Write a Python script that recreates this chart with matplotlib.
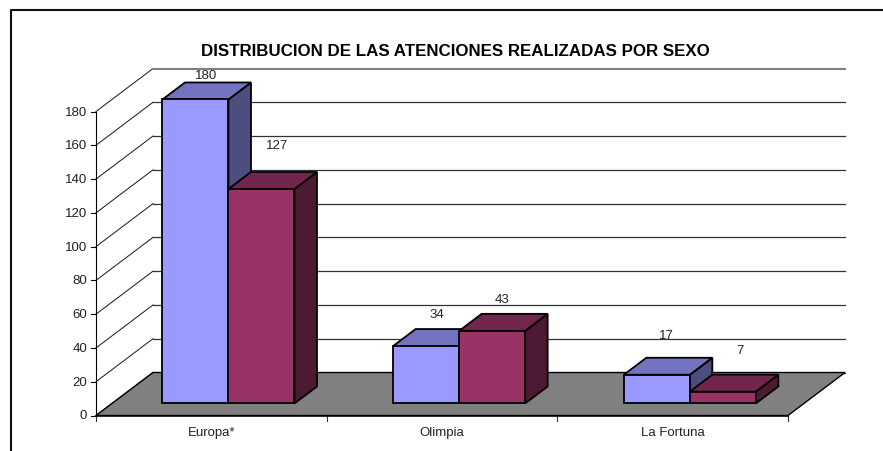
import numpy as np
import matplotlib
matplotlib.use("Agg")
import matplotlib.pyplot as plt
from matplotlib.patches import Polygon

categories = ["Europa*", "Olimpia", "La Fortuna"]
serie_a = [180, 34, 17]
serie_b = [127, 43, 7]
title = "DISTRIBUCION DE LAS ATENCIONES REALIZADAS POR SEXO"
yticks = list(range(0, 181, 20))

# label offsets from the top front centre of each bar, in pixels
offs_a = [(11, 24.5), (11, 32), (10, 40)]
offs_b = [(16, 44), (10, 32), (17, 42)]

W, H = 883, 452
# front plane of the chart in pixels
left, right, y0, ytop = 96, 788, 416.5, 112.5

plt.rcParams['font.family'] = ['Liberation Sans', 'DejaVu Sans']

fig = plt.figure(figsize=(W / 100, H / 100), dpi=100)
ax = fig.add_axes([left / W, 1 - y0 / H, (right - left) / W, (y0 - ytop) / H])
ax.set_xlim(0, 3)
ax.set_ylim(0, 180)
ax.axis("off")

# oblique projection, depth 0 = front, 1 = back wall
depth_x = 57 / ((right - left) / 3)
depth_y = 43 / ((y0 - ytop) / 180)


def pr(x, y, d=0):
    return (x + d * depth_x, y + d * depth_y)


def poly(pts, color, lw=1.0, ec="black", z=2):
    ax.add_patch(Polygon([pr(*p) for p in pts], closed=True, fc=color, ec=ec, lw=lw,
                         zorder=z, clip_on=False, joinstyle="miter"))


# outer frame
fig.add_artist(plt.Line2D([10.5 / W, 10.5 / W, 1], [0, 1 - 10.5 / H, 1 - 10.5 / H],
                          color="#111111", lw=1.5))

# floor
poly([(0, 0, 0), (3, 0, 0), (3, 0, 1), (0, 0, 1)], "#808080", lw=1.0, z=1)

# walls and grid
for i, v in enumerate(yticks):
    ax.plot(*zip(pr(0, v, 0), pr(0, v, 1)), color="#222222", lw=0.75, zorder=0, clip_on=False)
    col, lw = "#333333", 0.9
    if v == 180:
        col, lw = "#808080", 1.5
    ax.plot(*zip(pr(0, v, 1), pr(3, v, 1)), color=col, lw=lw, zorder=0, clip_on=False)
    ax.plot([-0.0217, 0], [v, v], color="black", lw=0.8, clip_on=False)
    ax.text(-0.039, v, str(v), ha="right", va="center", fontsize=9.5, color="#222222")
ax.plot([0, 0], [0, 180], color="black", lw=0.8, clip_on=False)

# x axis
ax.plot([0, 3], [0, 0], color="black", lw=1.1, zorder=3, clip_on=False)
for i in range(4):
    ax.plot([i, i], [0, -3.3], color="#333333", lw=0.8, clip_on=False)
for i, c in enumerate(categories):
    ax.text(i + 0.5, -9.8, c, ha="center", va="center", fontsize=9.5, color="#222222")

# bars
bw = 66 / ((right - left) / 3)
gap = 0.219
d0, d1 = 0.28, 0.675


def bar3d(x0, v, front, top, side, z):
    x1 = x0 + bw
    poly([(x1, 0, d0), (x1, 0, d1), (x1, v, d1), (x1, v, d0)], side, lw=1.3, z=z)
    poly([(x0, v, d0), (x1, v, d0), (x1, v, d1), (x0, v, d1)], top, lw=1.3, z=z)
    poly([(x0, 0, d0), (x1, 0, d0), (x1, v, d0), (x0, v, d0)], front, lw=1.3, z=z)


for i in range(3):
    xa = i + gap
    xb = xa + bw
    bar3d(xa, serie_a[i], "#9999FF", "#7373BF", "#4D4D80", 4)
    bar3d(xb, serie_b[i], "#993366", "#73264D", "#4D1A33", 5)
    ax.annotate(str(serie_a[i]), pr(xa + bw / 2, serie_a[i], d0), xytext=offs_a[i],
                textcoords="offset pixels", ha="center", va="center", fontsize=9.5,
                color="#222222", zorder=6, annotation_clip=False)
    ax.annotate(str(serie_b[i]), pr(xb + bw / 2, serie_b[i], d0), xytext=offs_b[i],
                textcoords="offset pixels", ha="center", va="center", fontsize=9.5,
                color="#222222", zorder=6, annotation_clip=False)

fig.text(455 / W, 1 - 51 / H, title, ha="center", va="center", fontsize=12.15, fontweight="bold")

fig.savefig("out.png", dpi=100)
